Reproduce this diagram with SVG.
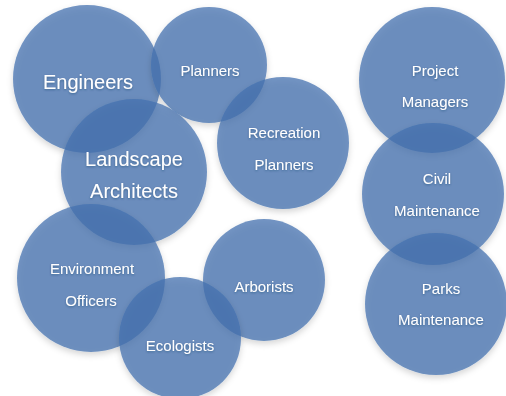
<svg xmlns="http://www.w3.org/2000/svg" width="506" height="396" viewBox="0 0 506 396">
<defs>
<filter id="sh" x="-20%" y="-20%" width="140%" height="150%">
<feDropShadow dx="0" dy="3" stdDeviation="3" flood-color="#000" flood-opacity="0.22"/>
</filter>
<filter id="tsh" x="-10%" y="-30%" width="120%" height="160%">
<feDropShadow dx="0" dy="1" stdDeviation="1" flood-color="#1f3a5f" flood-opacity="0.45"/>
</filter>
</defs>
<style>
.c{fill:#4472b0;fill-opacity:0.74;filter:url(#sh)}
.t{fill:#fff;font-family:"Liberation Sans",Arial,sans-serif;font-size:15px;text-anchor:middle;filter:url(#tsh)}
.b{font-size:20px}
</style>
<rect width="506" height="396" fill="#fff"/>
<g id="engineers"><circle class="c" cx="87" cy="79" r="74"/><text class="t b" x="88" y="89">Engineers</text></g>
<g id="planners"><circle class="c" cx="209" cy="65" r="58"/><text class="t" x="210" y="76">Planners</text></g>
<g id="landscape-architects"><circle class="c" cx="134" cy="172" r="73"/><text class="t b" x="134" y="166">Landscape</text><text class="t b" x="134" y="198">Architects</text></g>
<g id="recreation-planners"><circle class="c" cx="283" cy="143" r="66"/><text class="t" x="284" y="138">Recreation</text><text class="t" x="284" y="170">Planners</text></g>
<g id="project-managers"><circle class="c" cx="432" cy="80" r="73"/><text class="t" x="435" y="76">Project</text><text class="t" x="435" y="107">Managers</text></g>
<g id="civil-maintenance"><circle class="c" cx="433" cy="194" r="71"/><text class="t" x="437" y="184">Civil</text><text class="t" x="437" y="216">Maintenance</text></g>
<g id="parks-maintenance"><circle class="c" cx="436" cy="304" r="71"/><text class="t" x="441" y="294">Parks</text><text class="t" x="441" y="325">Maintenance</text></g>
<g id="environment-officers"><circle class="c" cx="91" cy="278" r="74"/><text class="t" x="92" y="274">Environment</text><text class="t" x="91" y="306">Officers</text></g>
<g id="arborists"><circle class="c" cx="264" cy="280" r="61"/><text class="t" x="264" y="292">Arborists</text></g>
<g id="ecologists"><circle class="c" cx="180" cy="338" r="61"/><text class="t" x="180" y="351">Ecologists</text></g>
<g id="connectors"></g>
</svg>
